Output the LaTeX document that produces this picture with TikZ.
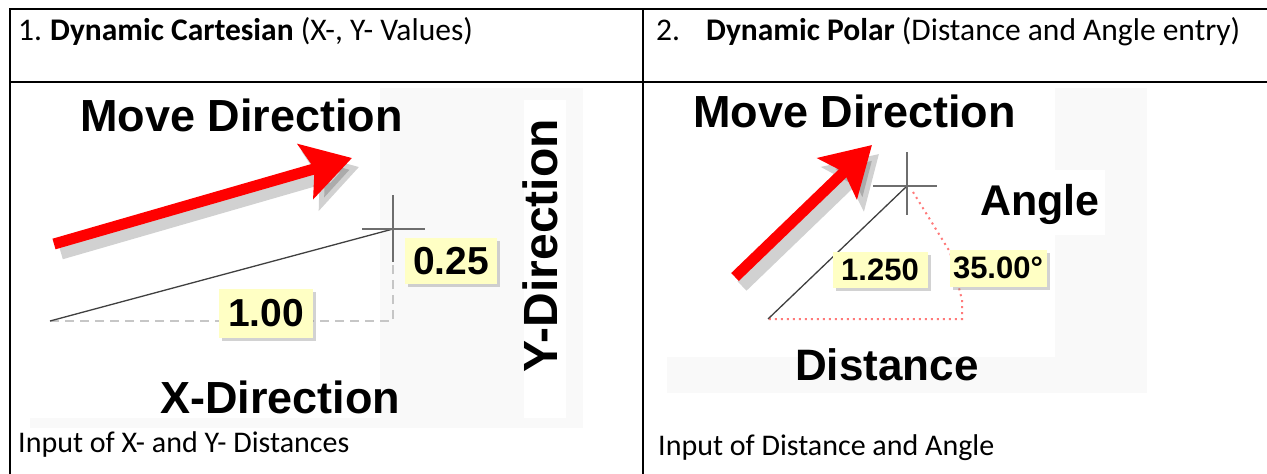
\documentclass[tikz,border=0pt]{standalone}
\usepackage{fontspec}
\setmainfont{Carlito}
\newfontfamily\shotfont{Liberation Sans}
\usetikzlibrary{arrows.meta,shadows}

\definecolor{tipyellow}{HTML}{FFFFC4}
\definecolor{cursorgray}{HTML}{6E6E6E}
\definecolor{trackgray}{HTML}{C6C6C6}
\definecolor{angred}{HTML}{FF7A7A}
\definecolor{shotbg}{HTML}{F9F9F9}

\tikzset{
  cell/.style={anchor=base west,inner sep=0,font=\fontsize{#1}{#1}\selectfont},
  cell/.default=31.5,
  bigword/.style={anchor=base west,inner sep=0,font=\shotfont\bfseries\fontsize{#1}{#1}\selectfont},
  bigword/.default=45,
  tipbox/.style={fill=tipyellow,inner sep=0,font=\shotfont\bfseries\fontsize{#1}{#1}\selectfont,
    drop shadow={shadow xshift=3pt,shadow yshift=-3pt,opacity=.35}},
  movearrow/.style={line width=11pt,red,-{Stealth[length=48pt,width=56pt,inset=9pt]}},
  arrowshade/.style={line width=13pt,black,opacity=.18,-{Stealth[length=50pt,width=60pt,inset=9pt]}},
  rubber/.style={line width=1.3pt,black!75},
  cursor/.style={line width=1.4pt,cursorgray},
  trackdash/.style={line width=1.5pt,trackgray,dash pattern=on 9pt off 6pt,dash phase=-30pt},
  angdots/.style={line width=2pt,angred,dash pattern=on 2pt off 4pt},
}

\begin{document}
\begin{tikzpicture}[x=1pt,y=-1pt]
  \useasboundingbox (0,0) rectangle (1267,474);

  % screenshot backgrounds
  \fill[shotbg] (30,88) rectangle (583,428);
  \fill[white] (30,88) rectangle (380,418);
  \fill[white] (524,100) rectangle (566,418);
  \fill[shotbg] (667,88) rectangle (1147,393);
  \fill[white] (667,88) rectangle (1055,357);
  \fill[white] (962,170) rectangle (1105,235);

  % table rules
  \draw[line width=1.4pt] (10,474) -- (10,9) -- (1267,9);
  \draw[line width=1.3pt] (10,82) -- (1267,82);
  \draw[line width=1.4pt] (643,9) -- (643,474);

  \node[cell] (numA) at (18,40) {1.};
  \node[cell] (headA) at (50,40) {\textbf{Dynamic Cartesian} (X-, Y- Values)};
  \node[cell] (numB) at (656,40) {2.};
  \node[cell] (headB) at (706,40) {\textbf{Dynamic Polar} (Distance and Angle entry)};
  \node[cell=30] (capA) at (18,452) {Input of X- and Y- Distances};
  \node[cell=30] (capB) at (658,455) {Input of Distance and Angle};

  % cartesian
  \node[bigword] (moveA) at (80,131) {Move Direction};
  \coordinate (tailA) at (54,244);
  \coordinate (tipA) at (352,158);
  \draw[arrowshade] ([shift={(7,9)}]tailA) -- ([shift={(7,9)}]tipA);
  \draw[movearrow] (tailA) -- (tipA);
  \coordinate (startA) at (50,321);
  \coordinate (hitA) at (393,229);
  \coordinate (cornerA) at (393,321);
  \draw[trackdash] (startA) -- (cornerA) -- (hitA);
  \draw[rubber] (startA) -- (hitA);
  \draw[cursor] ([xshift=-31pt]hitA) -- ([xshift=32pt]hitA)
    ([yshift=34pt]hitA) -- ([yshift=-33pt]hitA);
  \node[tipbox=39,minimum width=92pt,minimum height=46pt] (dy) at (451,261) {0.25};
  \node[tipbox=39,minimum width=94pt,minimum height=49pt] (dx) at (266,313) {1.00};
  \node[bigword] (xdir) at (160,413) {X-Direction};
  \node[bigword=48,anchor=center,rotate=90] (ydir) at (540,246) {Y-Direction};

  % polar
  \node[bigword] (moveB) at (693,127) {Move Direction};
  \coordinate (tailB) at (735,277);
  \coordinate (tipB) at (872,145);
  \draw[arrowshade] ([shift={(7,9)}]tailB) -- ([shift={(7,9)}]tipB);
  \draw[movearrow] (tailB) -- (tipB);
  \coordinate (startB) at (768,319);
  \coordinate (hitB) at (907,186);
  \coordinate (bendB) at (950,252);
  \coordinate (kneeB) at (962,300);
  \coordinate (cornerB) at (962,319);
  \draw[angdots] ([shift={(6,6)}]hitB) -- (bendB) -- (kneeB) -- (cornerB) -- (startB);
  \draw[rubber] (startB) -- (hitB);
  \draw[cursor] ([xshift=-34pt]hitB) -- ([xshift=30pt]hitB)
    ([yshift=34pt]hitB) -- ([yshift=-29pt]hitB);
  \node[tipbox=31,minimum width=95pt,minimum height=36pt] (dist) at (880,270) {1.250};
  \node[tipbox=31,minimum width=97pt,minimum height=37pt] (ang) at (998,268) {35.00°};
  \node[bigword=43] (angle) at (980,215) {Angle};
  \node[bigword=44] (distance) at (795,380) {Distance};
\end{tikzpicture}
\end{document}
